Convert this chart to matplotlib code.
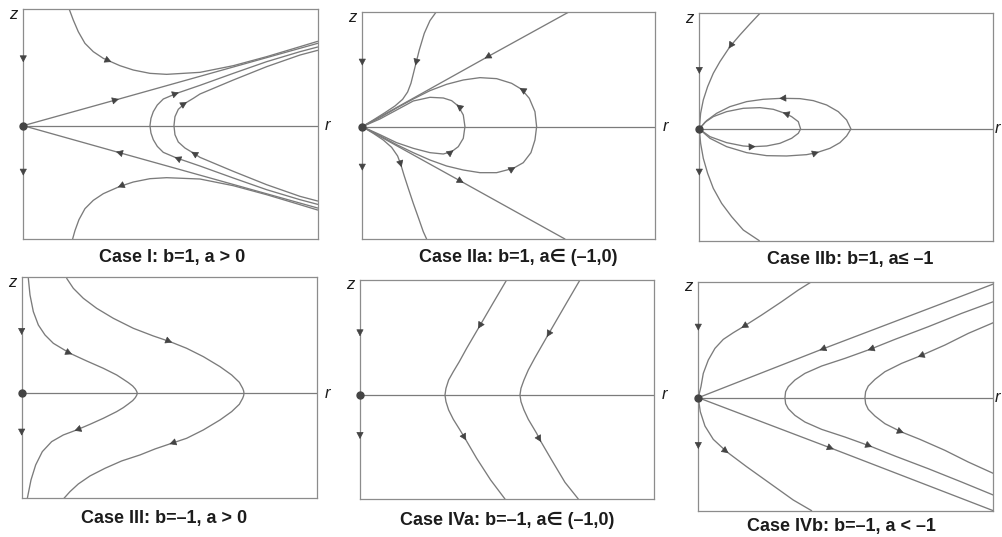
import numpy as np
import matplotlib
matplotlib.use('Agg')
import matplotlib.pyplot as plt

plt.rcParams['font.family'] = ['Liberation Sans', 'DejaVu Sans']

CURVE = '#7b7b7b'
FRAME = '#8c8c8c'
MARK = '#444444'
TEXT = '#1c1c1c'

# trajectories in the (r, z) half plane, listed in the direction of the flow
# ---- Case I ----
c1_outer_top = ([138, 150, 165, 185, 210, 240, 258, 290, 330, 380, 430, 530, 630, 730, 830, 883],
                [349, 317, 282, 247, 222, 202, 194, 180, 167, 157, 154, 160, 180, 207, 237, 253])
c1_outer_bot = ([883, 830, 730, 630, 530, 430, 380, 330, 290, 258, 240, 210, 185, 167, 155, 148],
                [-253, -237, -207, -180, -160, -156, -159, -169, -182, -196, -204, -224, -249, -282, -315, -340])
c1_line_up = ([0, 280, 883], [0, 78, 247])
c1_line_dn = ([883, 285, 0], [-247, -80, 0])
c1_hyp_in = ([883, 830, 730, 630, 530, 460, 420, 402, 390, 383, 380, 383, 390, 402, 420, 460, 530, 630, 730, 830, 883],
             [-236, -222, -192, -157, -121, -97, -80, -62, -42, -22, 0, 22, 42, 62, 80, 97, 121, 157, 192, 222, 236])
c1_hyp_out = ([883, 830, 730, 630, 530, 510, 485, 465, 455, 452, 455, 465, 485, 510, 530, 630, 730, 830, 883],
              [-226, -212, -177, -137, -95, -82, -67, -49, -27, 0, 27, 49, 67, 82, 95, 137, 177, 212, 226])
c1_zaxis = [197, -143]

# ---- Case IIa ----
c2_line_up = ([618, 373, 0], [343, 208, 0])
c2_line_dn = ([0, 298, 608], [0, -165, -337])
c2_left_up = ([221, 203, 186, 171, 161, 153, 146, 136, 121, 98, 68, 33, 0],
              [343, 318, 280, 230, 190, 158, 130, 104, 82, 62, 42, 20, 0])
c2_left_dn = ([0, 33, 63, 88, 106, 116, 125, 138, 153, 169, 183, 193],
              [0, -20, -40, -62, -88, -115, -145, -185, -230, -275, -315, -337])
c2_loop_out = ([0, 53, 103, 153, 203, 253, 303, 353, 403, 453, 483, 506, 518, 523,
                518, 501, 478, 448, 403, 353, 303, 253, 203, 153, 103, 53, 0],
               [0, -27, -54, -78, -100, -118, -130, -138, -138, -125, -108, -78, -40, 0,
                45, 85, 112, 130, 144, 147, 140, 127, 108, 83, 56, 27, 0])
c2_loop_in = ([0, 53, 103, 153, 203, 243, 268, 288, 303, 308, 303, 288, 268, 243, 203, 153, 103, 53, 0],
              [0, -24, -48, -65, -78, -82, -75, -60, -35, 0, 35, 62, 78, 86, 88, 77, 50, 23, 0])
c2_zaxis = [190, -125]

# ---- Case IIb ----
c3_left_up = ([182, 152, 122, 92, 62, 42, 25, 12, 4, 0],
              [347, 315, 282, 247, 202, 167, 127, 87, 47, 0])
c3_left_dn = ([0, 4, 12, 25, 42, 67, 97, 132, 180],
              [0, -43, -88, -133, -178, -223, -263, -303, -335])
c3_loop_out = ([0, 32, 82, 142, 202, 262, 322, 352, 392, 422, 442, 455,
                442, 417, 382, 342, 302, 247, 192, 142, 92, 52, 22, 0],
               [0, -28, -53, -71, -80, -81, -77, -71, -58, -41, -21, 0,
                27, 52, 72, 85, 91, 92, 89, 82, 67, 47, 25, 0])
c3_loop_in = ([0, 32, 82, 132, 162, 202, 242, 277, 297, 304, 297, 277, 257, 222, 182, 132, 82, 42, 17, 0],
              [0, -23, -41, -51, -53, -51, -43, -28, -13, 0, 22, 37, 47, 59, 64, 62, 52, 37, 20, 0])
c3_zaxis = [172, -133]

# ---- Case III ----
c4_inner = ([20, 25, 35, 50, 70, 95, 145, 195, 245, 285, 305, 320, 333, 341, 345, 347,
             345, 341, 333, 320, 305, 285, 245, 205, 165, 125, 90, 62, 42, 28, 20, 17],
            [345, 295, 245, 205, 175, 150, 120, 97, 75, 55, 42, 32, 22, 13, 6, 0,
             -6, -13, -22, -32, -43, -55, -75, -93, -110, -125, -145, -175, -215, -260, -300, -315])
c4_outer = ([135, 155, 185, 225, 275, 335, 395, 445, 495, 545, 595, 630, 653, 663, 666, 667,
             666, 663, 653, 630, 595, 545, 495, 450, 400, 355, 300, 250, 205, 170, 145, 127],
            [345, 315, 285, 255, 225, 195, 172, 155, 135, 110, 80, 55, 33, 15, 7, 0,
             -7, -15, -33, -55, -80, -110, -135, -150, -167, -185, -203, -225, -248, -272, -295, -315])
c4_zaxis = [182, -120]

# ---- Case IVa ----
c5_left = ([440, 400, 358, 320, 298, 280, 266, 258, 255, 258, 266, 280, 300, 315, 350, 392, 435],
           [345, 277, 205, 140, 100, 70, 45, 20, 0, -20, -45, -73, -105, -130, -190, -255, -312])
c5_right = ([660, 622, 564, 525, 505, 492, 483, 480, 483, 492, 505, 530, 540, 575, 615, 655],
            [345, 280, 180, 112, 75, 45, 20, 0, -20, -45, -73, -115, -135, -195, -262, -312])
c5_zaxis = [183, -125]

# ---- Case IVb ----
c6_line_up = ([885, 370, 0], [341, 145, 0])
c6_line_dn = ([0, 400, 885], [0, -152, -339])
c6_hyp_in = ([885, 790, 690, 590, 515, 440, 370, 320, 290, 270, 262, 260,
              262, 270, 290, 320, 370, 440, 515, 590, 690, 790, 885],
             [288, 253, 213, 175, 145, 118, 95, 73, 53, 33, 18, 0,
              -18, -33, -53, -73, -95, -118, -145, -175, -213, -253, -292])
c6_hyp_out = ([885, 810, 740, 665, 610, 560, 530, 510, 502, 500,
               502, 510, 530, 560, 610, 665, 740, 810, 885],
              [225, 193, 158, 125, 103, 78, 55, 35, 18, 0,
               -18, -35, -55, -78, -103, -125, -158, -193, -227])
c6_left_up = ([340, 300, 250, 190, 135, 105, 75, 50, 30, 15, 8, 0],
              [348, 323, 288, 248, 213, 195, 175, 148, 113, 73, 33, 0])
c6_left_dn = ([0, 6, 20, 45, 85, 145, 215, 285, 340],
              [0, -42, -85, -125, -162, -207, -257, -307, -339])
c6_zaxis = [208, -147]

captions = ['Case I: b=1, a > 0',
            'Case IIa: b=1, a\u2208 (\u20131,0)',
            'Case IIb: b=1, a\u2264 \u20131',
            'Case III: b=\u20131, a > 0',
            'Case IVa: b=\u20131, a\u2208 (\u20131,0)',
            'Case IVb: b=\u20131, a < \u20131']


def draw_arrow(ax, x0, y0, dx, dy):
    n = np.hypot(dx, dy)
    ax.annotate('', xy=(x0 + 7 * dx / n, y0 + 7 * dy / n), xytext=(x0, y0),
                arrowprops=dict(arrowstyle='-|>,head_length=0.6,head_width=0.32',
                                color=MARK, lw=0.5, shrinkA=0, shrinkB=0,
                                mutation_scale=7), zorder=5)


def draw_curve(ax, curve, arrows=()):
    r, z = curve
    ax.plot(r, z, color=CURVE, lw=0.95, solid_joinstyle='round', solid_capstyle='round')
    for i in arrows:
        draw_arrow(ax, r[i], z[i], r[i + 1] - r[i], z[i + 1] - z[i])


def panel(rect, rmax, zmin, zmax, zarrows, r_gap=1.035):
    ax = fig.add_axes(rect)
    ax.set_xlim(0, rmax)
    ax.set_ylim(zmin, zmax)
    ax.set_xticks([])
    ax.set_yticks([])
    for s in ax.spines.values():
        s.set_color(FRAME)
        s.set_linewidth(0.9)
    ax.plot([0, rmax], [0, 0], color=CURVE, lw=0.9)
    for zz in zarrows:
        draw_arrow(ax, 0, zz, 0, -1)
    ax.plot(0, 0, 'o', ms=5, color=MARK, clip_on=False, zorder=6)
    ax.text(-0.033, 0.978, 'z', transform=ax.transAxes, ha='center', va='center',
            style='italic', fontsize=12, color=TEXT)
    ax.text(rmax * r_gap, 0, 'r', ha='center', va='center', style='italic',
            fontsize=12, color=TEXT, clip_on=False)
    return ax


fig = plt.figure(figsize=(10.03, 5.37), dpi=100)

ax1 = panel([0.0232, 0.5549, 0.2935, 0.4277], 883, -340, 349, c1_zaxis)
draw_curve(ax1, c1_outer_top, [6])
draw_curve(ax1, c1_outer_bot, [8])
draw_curve(ax1, c1_line_up, [1])
draw_curve(ax1, c1_line_dn, [1])
draw_curve(ax1, c1_hyp_in, [5, 15])
draw_curve(ax1, c1_hyp_out, [5, 12])

ax2 = panel([0.3612, 0.5549, 0.2918, 0.4222], 878, -337, 343, c2_zaxis)
draw_curve(ax2, c2_line_up, [1])
draw_curve(ax2, c2_line_dn, [1])
draw_curve(ax2, c2_left_up, [4])
draw_curve(ax2, c2_left_dn, [5])
draw_curve(ax2, c2_loop_out, [9, 16])
draw_curve(ax2, c2_loop_in, [6, 11])

ax3 = panel([0.6972, 0.5518, 0.2931, 0.4235], 882, -335, 347, c3_zaxis, r_gap=1.013)
draw_curve(ax3, c3_left_up, [3])
draw_curve(ax3, c3_left_dn)
draw_curve(ax3, c3_loop_out, [7, 17])
draw_curve(ax3, c3_loop_in, [4, 12])

ax4 = panel([0.0216, 0.0721, 0.2941, 0.4115], 885, -315, 348, c4_zaxis)
draw_curve(ax4, c4_inner, [6, 24])
draw_curve(ax4, c4_outer, [7, 23])

ax5 = panel([0.3589, 0.0708, 0.2931, 0.4078], 882, -312, 345, c5_zaxis)
draw_curve(ax5, c5_left, [2, 13])
draw_curve(ax5, c5_right, [2, 12])

ax6 = panel([0.6962, 0.0490, 0.2941, 0.4264], 885, -339, 348, c6_zaxis, r_gap=1.013)
draw_curve(ax6, c6_line_up, [1])
draw_curve(ax6, c6_line_dn, [1])
draw_curve(ax6, c6_hyp_in, [4, 18])
draw_curve(ax6, c6_hyp_out, [3, 14])
draw_curve(ax6, c6_left_up, [4])
draw_curve(ax6, c6_left_dn, [4])

# caption centres and baselines
cap_pos = [(171.7, 262.0), (518.3, 262.0), (850.0, 263.5),
           (164.0, 523.5), (507.5, 525.0), (841.0, 531.5)]
for (x, y), text in zip(cap_pos, captions):
    fig.text(x / 1003, 1 - y / 537, text, ha='center', va='baseline', fontsize=13,
             fontweight='bold', color=TEXT)

fig.savefig('out.png', dpi=100)
